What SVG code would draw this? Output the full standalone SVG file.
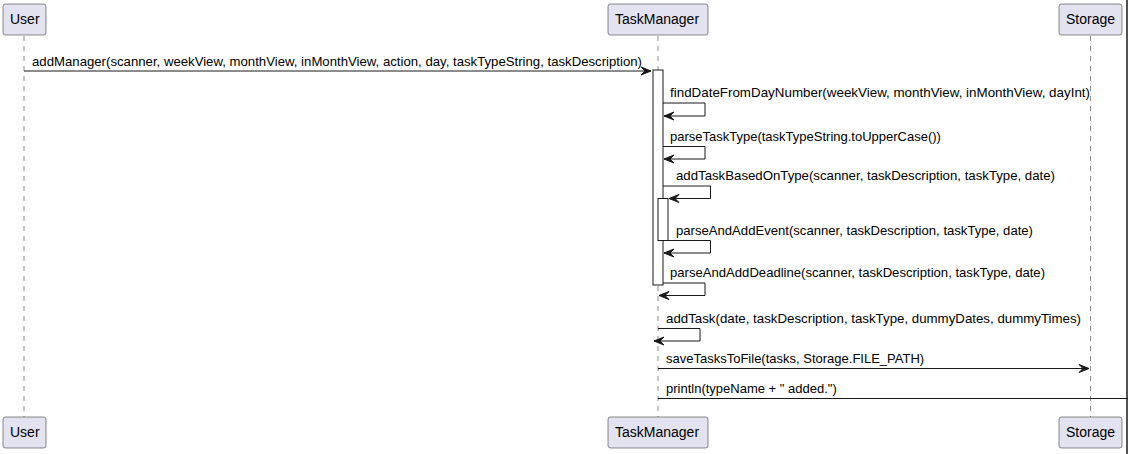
<svg xmlns="http://www.w3.org/2000/svg" width="1128" height="454" viewBox="0 0 1128 454">
<style>
.part{fill:#E2E2F0;stroke:#181818;stroke-width:0.5}
.pl{font-family:"Liberation Sans",Arial,sans-serif;font-size:14px;fill:#000}
.life{stroke:#181818;stroke-width:0.5;stroke-dasharray:5,5;fill:none}
.act{fill:#FFFFFF;stroke:#181818;stroke-width:1}
.msg{stroke:#181818;stroke-width:1;fill:none}
.head{fill:#181818;stroke:#181818;stroke-width:1}
.ml{font-family:"Liberation Sans",Arial,sans-serif;font-size:13px;fill:#000}
</style>
<rect x="0" y="0" width="1128" height="454" fill="#FFFFFF"/>
<g id="lifelines">
<line class="life" x1="24" y1="36" x2="24" y2="417"/>
<line class="life" x1="658" y1="36" x2="658" y2="417"/>
<line class="life" x1="1090.5" y1="36" x2="1090.5" y2="417"/>
</g>
<g id="user">
<rect class="part" x="3" y="4" width="43" height="31" rx="2.5"/>
<text class="pl" x="10" y="24">User</text>
<rect class="part" x="3" y="417" width="43" height="31" rx="2.5"/>
<text class="pl" x="10" y="437">User</text>
</g>
<g id="taskmanager">
<rect class="part" x="608" y="4" width="100" height="31" rx="2.5"/>
<text class="pl" x="615" y="24">TaskManager</text>
<rect class="part" x="608" y="417" width="100" height="31" rx="2.5"/>
<text class="pl" x="615" y="437">TaskManager</text>
<rect class="act" x="653" y="70" width="10" height="215"/>
<rect class="act" x="658" y="198.5" width="10" height="42"/>
</g>
<g id="storage">
<rect class="part" x="1059" y="4" width="63" height="31" rx="2.5"/>
<text class="pl" x="1066" y="24">Storage</text>
<rect class="part" x="1059" y="417" width="63" height="31" rx="2.5"/>
<text class="pl" x="1066" y="437">Storage</text>
</g>
<g id="connectors">
<line class="msg" x1="24" y1="71" x2="651" y2="71"/>
<polygon class="head" points="641,67 651,71 641,75 645,71"/>
<text class="ml" x="32" y="66" textLength="610" lengthAdjust="spacingAndGlyphs">addManager(scanner, weekView, monthView, inMonthView, action, day, taskTypeString, taskDescription)</text>

<polyline class="msg" points="663,103 705,103 705,116 664,116"/>
<polygon class="head" points="674,112 664,116 674,120 670,116"/>
<text class="ml" x="670" y="97" textLength="420" lengthAdjust="spacingAndGlyphs">findDateFromDayNumber(weekView, monthView, inMonthView, dayInt)</text>

<polyline class="msg" points="663,146.5 705,146.5 705,159 664,159"/>
<polygon class="head" points="674,155 664,159 674,163 670,159"/>
<text class="ml" x="670" y="141">parseTaskType(taskTypeString.toUpperCase())</text>

<polyline class="msg" points="663,186 710.5,186 710.5,198.5 669,198.5"/>
<polygon class="head" points="679,194.5 669,198.5 679,202.5 675,198.5"/>
<text class="ml" x="676" y="180" textLength="379" lengthAdjust="spacingAndGlyphs">addTaskBasedOnType(scanner, taskDescription, taskType, date)</text>

<polyline class="msg" points="668,240.5 710.5,240.5 710.5,253 664,253"/>
<polygon class="head" points="674,249 664,253 674,257 670,253"/>
<text class="ml" x="676" y="235" textLength="357" lengthAdjust="spacingAndGlyphs">parseAndAddEvent(scanner, taskDescription, taskType, date)</text>

<polyline class="msg" points="663,283 705,283 705,295.5 659,295.5"/>
<polygon class="head" points="669,291.5 659,295.5 669,299.5 665,295.5"/>
<text class="ml" x="670" y="277" textLength="375" lengthAdjust="spacingAndGlyphs">parseAndAddDeadline(scanner, taskDescription, taskType, date)</text>

<polyline class="msg" points="658,328.5 700,328.5 700,341 654,341"/>
<polygon class="head" points="664,337 654,341 664,345 660,341"/>
<text class="ml" x="666" y="323" textLength="415" lengthAdjust="spacingAndGlyphs">addTask(date, taskDescription, taskType, dummyDates, dummyTimes)</text>

<line class="msg" x1="658" y1="368.5" x2="1089" y2="368.5"/>
<polygon class="head" points="1079,364.5 1089,368.5 1079,372.5 1083,368.5"/>
<text class="ml" x="666" y="363">saveTasksToFile(tasks, Storage.FILE_PATH)</text>

<line class="msg" x1="658" y1="398.5" x2="1128" y2="398.5"/>
<text class="ml" x="666" y="393">println(typeName + " added.")</text>
</g>
<line x1="1127" y1="0" x2="1127" y2="454" stroke="#181818" stroke-width="1.5"/>
</svg>
